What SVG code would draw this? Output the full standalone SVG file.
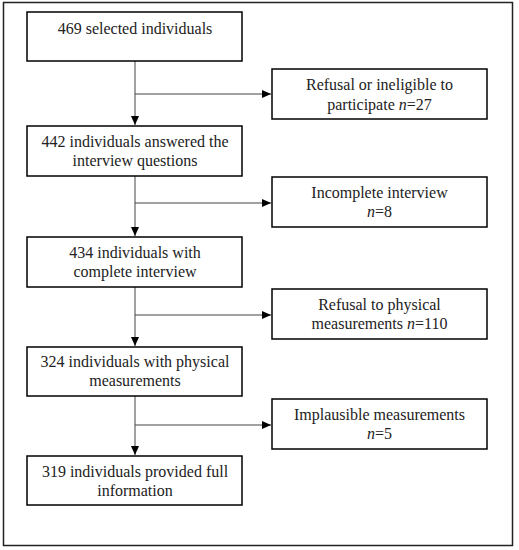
<svg xmlns="http://www.w3.org/2000/svg" width="519" height="550" viewBox="0 0 519 550">
<style>
.box{fill:#fff;stroke:#000;stroke-width:1.5}
.t{font-family:"Liberation Serif",serif;font-size:16px;fill:#222;text-anchor:middle}
.c{stroke:#444;stroke-width:1;fill:none}
</style>
<defs>
<marker id="ah" markerWidth="10" markerHeight="10" refX="9" refY="4" orient="auto" markerUnits="userSpaceOnUse">
<path d="M0,0 L9,4 L0,8 Z" fill="#000"/>
</marker>
</defs>
<rect x="0" y="0" width="519" height="550" fill="#fff"/>
<rect x="3.5" y="2.5" width="509" height="543" fill="none" stroke="#222" stroke-width="1.5"/>
<g id="connectors">
<line class="c" x1="135" y1="61" x2="135" y2="125" marker-end="url(#ah)"/>
<line class="c" x1="135" y1="94" x2="271" y2="94" marker-end="url(#ah)"/>
<line class="c" x1="135" y1="176" x2="135" y2="236" marker-end="url(#ah)"/>
<line class="c" x1="135" y1="203" x2="271" y2="203" marker-end="url(#ah)"/>
<line class="c" x1="135" y1="287" x2="135" y2="346" marker-end="url(#ah)"/>
<line class="c" x1="135" y1="315" x2="271" y2="315" marker-end="url(#ah)"/>
<line class="c" x1="135" y1="396" x2="135" y2="455" marker-end="url(#ah)"/>
<line class="c" x1="135" y1="425" x2="271" y2="425" marker-end="url(#ah)"/>
</g>
<g id="n1"><rect class="box" x="27" y="12" width="215" height="49"/><text class="t" x="135" y="34">469 selected individuals</text></g>
<g id="n2"><rect class="box" x="27" y="126" width="215" height="50"/><text class="t" x="135" y="147">442 individuals answered the</text><text class="t" x="135" y="166">interview questions</text></g>
<g id="n3"><rect class="box" x="27" y="237" width="215" height="50"/><text class="t" x="135" y="258">434 individuals with</text><text class="t" x="135" y="277">complete interview</text></g>
<g id="n4"><rect class="box" x="27" y="347" width="215" height="49"/><text class="t" x="135" y="367">324 individuals with physical</text><text class="t" x="135" y="386">measurements</text></g>
<g id="n5"><rect class="box" x="27" y="456" width="215" height="49"/><text class="t" x="135" y="477">319 individuals provided full</text><text class="t" x="135" y="496">information</text></g>
<g id="r1"><rect class="box" x="272" y="69" width="215" height="50"/><text class="t" x="379.5" y="90">Refusal or ineligible to</text><text class="t" x="379.5" y="110">participate <tspan font-style="italic">n</tspan>=27</text></g>
<g id="r2"><rect class="box" x="272" y="177" width="215" height="50"/><text class="t" x="379.5" y="198">Incomplete interview</text><text class="t" x="379.5" y="217"><tspan font-style="italic">n</tspan>=8</text></g>
<g id="r3"><rect class="box" x="272" y="289" width="215" height="50"/><text class="t" x="379.5" y="310">Refusal to physical</text><text class="t" x="379.5" y="329">measurements <tspan font-style="italic">n</tspan>=110</text></g>
<g id="r4"><rect class="box" x="272" y="399" width="215" height="50"/><text class="t" x="379.5" y="420">Implausible measurements</text><text class="t" x="379.5" y="439"><tspan font-style="italic">n</tspan>=5</text></g>
</svg>
